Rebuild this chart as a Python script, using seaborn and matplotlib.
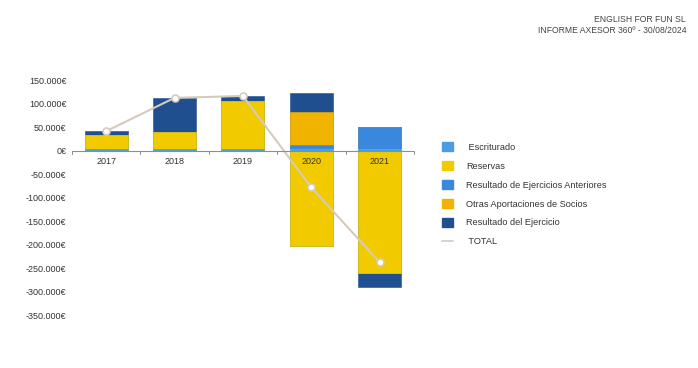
import numpy as np
import pandas as pd
import matplotlib
matplotlib.use("Agg")
import matplotlib.pyplot as plt
from matplotlib.patches import Patch
from matplotlib.lines import Line2D
import seaborn as sns

# Data
years = ["2017", "2018", "2019", "2020", "2021"]
escriturado = [3000, 3000, 3000, 3000, 3000]
reservas = [29000, 36000, 103000, -203500, -261000]
res_anteriores = [0, 0, 0, 8000, 48000]
otras_aport = [0, 0, 0, 71000, 0]
res_ejercicio = [10000, 72000, 10000, 41000, -30000]
total = [41000, 112000, 116000, -78500, -238000]

series_names = [" Escriturado", "Reservas", "Resultado de Ejercicios Anteriores",
                "Otras Aportaciones de Socios", "Resultado del Ejercicio"]
series_vals = [escriturado, reservas, res_anteriores, otras_aport, res_ejercicio]
colors = ["#4a9de3", "#f1cb00", "#3a88de", "#f0b400", "#1f4f8f"]
line_color = "#d6cabb"

sns.set_style("white")
plt.rcParams["font.family"] = ["Liberation Sans", "DejaVu Sans"]

fig = plt.figure(figsize=(6.98, 3.68), dpi=100)
ax = fig.add_axes([0.103, 0.144, 0.49, 0.6386])

# stacked bars: draw cumulative stacks from the top layer down so lower layers cover them
vals = np.array(series_vals, dtype=float)
pos = np.clip(vals, 0, None).cumsum(axis=0)
neg = np.clip(vals, None, 0).cumsum(axis=0)
for k in range(len(series_names) - 1, -1, -1):
    for stack in (pos, neg):
        df = pd.DataFrame({"year": years, "value": stack[k]})
        if np.all(stack[k] == 0):
            continue
        sns.barplot(data=df, x="year", y="value", color=colors[k], width=0.63,
                    saturation=1, ax=ax, edgecolor=colors[k], linewidth=0.4)

# TOTAL line
tdf = pd.DataFrame({"x": np.arange(len(years)), "total": total})
sns.lineplot(data=tdf, x="x", y="total", color=line_color, linewidth=1.5, ax=ax,
             marker="o", markersize=5, markerfacecolor="white",
             markeredgecolor=line_color, markeredgewidth=1.2)

ax.set_ylim(-350000, 150000)
ax.set_xlim(-0.5, len(years) - 0.5)
ax.set_yticks(np.arange(-350000, 150001, 50000))
ax.set_yticklabels([f"{int(v):,}€".replace(",", ".") for v in np.arange(-350000, 150001, 50000)])
ax.tick_params(axis="y", length=0, pad=4, labelsize=6.5, labelcolor="#333333")
ax.set_xticks([])
ax.set_xlabel("")
ax.set_ylabel("")
for s in ax.spines.values():
    s.set_visible(False)

# zero axis with category ticks
ax.axhline(0, color="#8a8f96", linewidth=0.8, zorder=5)
for b in np.arange(-0.5, len(years), 1.0):
    ax.plot([b, b], [0, -8000], color="#8a8f96", linewidth=0.7, zorder=5, clip_on=False)
for i, y in enumerate(years):
    ax.annotate(y, (i, 0), xytext=(0, -5), textcoords="offset points",
                ha="center", va="top", fontsize=6.5, color="#333333", zorder=6)

# legend
handles = [Patch(facecolor=c, edgecolor=c) for c in colors]
handles.append(Line2D([0], [0], color=line_color, linewidth=1.2))
fig.legend(handles, series_names + [" TOTAL"], loc="upper left",
           bbox_to_anchor=(0.621, 0.637), frameon=False, fontsize=6.6,
           labelspacing=1.0, handlelength=1.2, handleheight=1.2,
           handletextpad=1.5, labelcolor="#333333")

fig.text(0.983, 0.947, "ENGLISH FOR FUN SL", ha="right", va="center", fontsize=6.2, color="#444444")
fig.text(0.983, 0.918, "INFORME AXESOR 360º - 30/08/2024", ha="right", va="center",
         fontsize=6.2, color="#444444")

fig.savefig("out.png", dpi=100)
